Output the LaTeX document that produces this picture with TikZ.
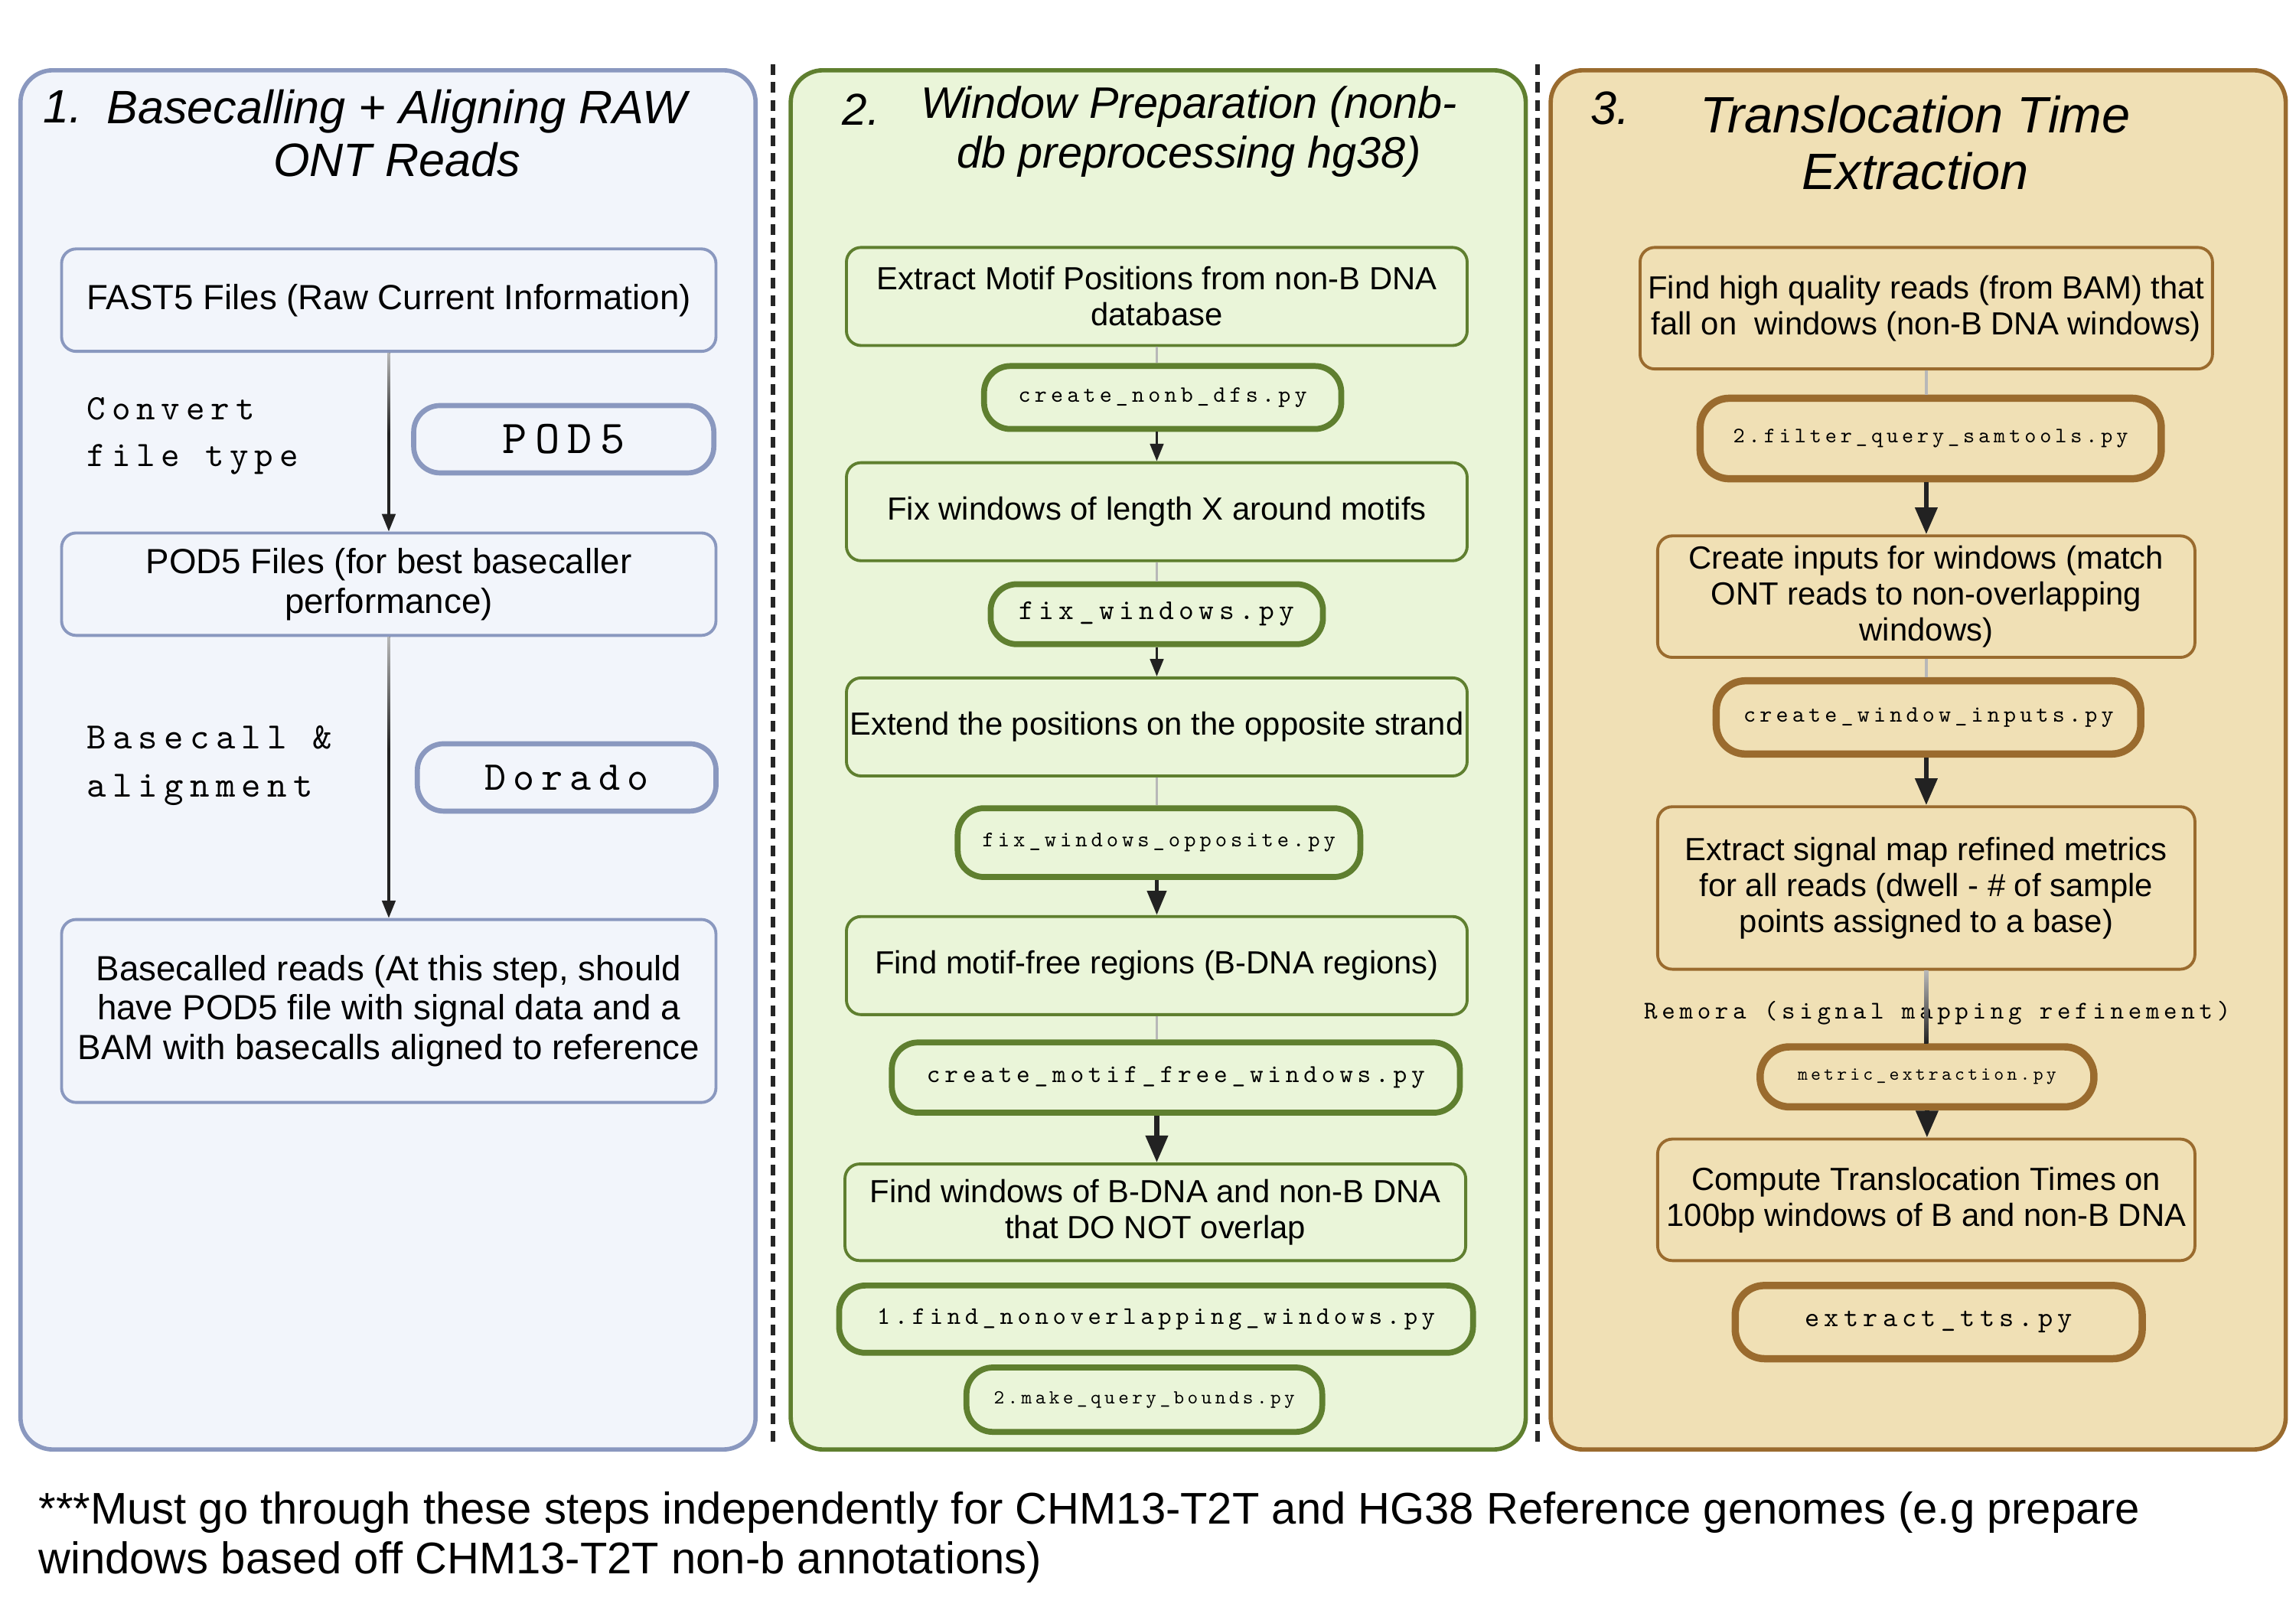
\documentclass[tikz,border=0pt]{standalone}
\usepackage{fontspec}
\setmainfont{Liberation Sans}
\setmonofont{lmmono10-regular.otf}[LetterSpace=17]
\usetikzlibrary{arrows.meta,calc}
\newcommand{\pxu}{0.5443pt}
\newcommand{\myfs}[2]{\fontsize{#1}{#2}\selectfont}
\newcommand{\codef}{\ttfamily}
\definecolor{pAfill}{HTML}{F2F5FB}
\definecolor{pAline}{HTML}{8A98BF}
\definecolor{pBfill}{HTML}{EAF5D9}
\definecolor{pBline}{HTML}{5F7F2F}
\definecolor{pCfill}{HTML}{F0E0B5}
\definecolor{pCline}{HTML}{9A6B2E}
\definecolor{arrowc}{HTML}{222222}
\definecolor{fadec}{HTML}{B8B8B8}
\tikzset{
  sz/.style 2 args={minimum width=#1*\pxu, minimum height=#2*\pxu},
  panel/.style={rounded corners=22*\pxu, line width=1.6pt},
  stepbox/.style={draw, rounded corners=10*\pxu, line width=1.1pt, inner sep=0pt, align=center, font=\myfs{11.9}{13.4}},
  stepboxA/.style={stepbox, font=\myfs{13}{14.7}},
  codeA/.style={draw=pAline, rounded corners=18*\pxu, line width=1.9pt, inner sep=0pt, align=center},
  codeB/.style={draw=pBline, rounded corners=18*\pxu, line width=2.2pt, inner sep=0pt, align=center},
  codeC/.style={draw=pCline, rounded corners=20*\pxu, line width=2.7pt, inner sep=0pt, align=center},
  ttl/.style={align=center, inner sep=0pt, font=\itshape},
  arrS/.style={draw=arrowc, line width=0.9pt, -{Triangle[length=6.5pt,width=5pt]}},
  arrM/.style={draw=arrowc, line width=1.5pt, -{Triangle[length=9pt,width=7pt]}},
  arrL/.style={draw=arrowc, line width=1.9pt, -{Triangle[length=10pt,width=8pt]}},
  fadeln/.style={draw=fadec, line width=1.1pt},
  sep/.style={draw=black!85, line width=1.6pt, dash pattern=on 4pt off 2.6pt},
}
\begin{document}
\begin{tikzpicture}[x=0.019133cm, y=-0.019133cm]
\useasboundingbox (0,0) rectangle (1568,1097.6);

% panels
\draw[panel, fill=pAfill, draw=pAline] (14,48) rectangle (516,990);
\draw[panel, fill=pBfill, draw=pBline] (540,48) rectangle (1042,990);
\draw[panel, fill=pCfill, draw=pCline] (1059,48) rectangle (1561,990);

% separators
\coordinate (s1t) at (528,44); \coordinate (s1b) at (528,985);
\coordinate (s2t) at (1050,44); \coordinate (s2b) at (1050,985);
\draw[sep] (s1t) -- (s1b);
\draw[sep] (s2t) -- (s2b);

% ---------- panel 1 ----------
\node[ttl, anchor=west, font=\itshape\myfs{17.4}{19.6}] (n1) at (29,73) {1.};
\node[ttl, font=\itshape\myfs{17.4}{19.6}] (t1) at (271,91) {Basecalling + Aligning RAW\\ONT Reads};

\node[stepboxA, draw=pAline, sz={447}{70}] (fast5) at (265.5,205) {FAST5 Files (Raw Current Information)};
\node[codeA, sz={205}{46}, font=\codef\myfs{17.5}{20}] (pod5) at (385,300) {POD5};
\node[anchor=west, align=left, inner sep=0pt, font=\codef\myfs{13.3}{17.4}] (conv) at (59,298) {Convert\\file type};
\node[stepboxA, draw=pAline, sz={447}{70}] (pod5f) at (265.5,399) {POD5 Files (for best basecaller\\performance)};
\node[codeA, sz={204}{46}, font=\codef\myfs{15.2}{18}] (dorado) at (387,531) {Dorado};
\node[anchor=west, align=left, inner sep=0pt, font=\codef\myfs{13.8}{18}] (bcal) at (59,523) {Basecall \&\\alignment};
\node[stepboxA, draw=pAline, sz={447}{125}] (bcd) at (265.5,690.5) {Basecalled reads (At this step, should\\have POD5 file with signal data and a\\BAM with basecalls aligned to reference};

\draw[arrS] (fast5.south) -- (pod5f.north);
\shade[top color=fadec, bottom color=arrowc] ([xshift=-0.5pt]fast5.south) rectangle ([xshift=0.5pt]$(fast5.south)!0.45!(pod5f.north)$);
\draw[arrS] (pod5f.south) -- (bcd.north);
\shade[top color=fadec, bottom color=arrowc] ([xshift=-0.5pt]pod5f.south) rectangle ([xshift=0.5pt]$(pod5f.south)!0.4!(bcd.north)$);

% ---------- panel 2 ----------
\node[ttl, anchor=west, font=\itshape\myfs{16.6}{18.5}] (n2) at (575,75) {2.};
\node[ttl, font=\itshape\myfs{16.4}{18.5}] (t2) at (812,90) {Window Preparation (nonb-\\db preprocessing hg38)};

\node[stepbox, draw=pBline, sz={424}{67}] (ext) at (790,202.5) {Extract Motif Positions from non-B DNA\\database};
\node[codeB, sz={244}{43}, font=\codef\myfs{8.7}{12}] (c1) at (794,271.5) {create\_nonb\_dfs.py};
\node[stepbox, draw=pBline, sz={424}{67}] (fixw) at (790,349.5) {Fix windows of length X around motifs};
\node[codeB, sz={227}{41}, font=\codef\myfs{10.7}{14}] (c2) at (790,419.5) {fix\_windows.py};
\node[stepbox, draw=pBline, sz={424}{67}] (extd) at (790,496.5) {Extend the positions on the opposite strand};
\node[codeB, sz={275}{47}, font=\codef\myfs{8.3}{12}] (c3) at (791.5,575.5) {fix\_windows\_opposite.py};
\node[stepbox, draw=pBline, sz={424}{67}] (mfree) at (790,659.5) {Find motif-free regions (B-DNA regions)};
\node[codeB, sz={388}{48}, font=\codef\myfs{9.6}{13}] (c4) at (803,736) {create\_motif\_free\_windows.py};
\node[stepbox, draw=pBline, sz={424}{66}] (fwin) at (789,828) {Find windows of B-DNA and non-B DNA\\that DO NOT overlap};
\node[codeB, sz={433}{46}, font=\codef\myfs{9.4}{13}] (c5) at (789.5,901) {1.find\_nonoverlapping\_windows.py};
\node[codeB, sz={243}{44}, font=\codef\myfs{7.4}{10}] (c6) at (781.5,956) {2.make\_query\_bounds.py};

\draw[fadeln] (ext.south) -- (ext.south |- c1.north);
\draw[arrS] (ext.south |- c1.south) -- (fixw.north);
\draw[fadeln] (fixw.south) -- (fixw.south |- c2.north);
\draw[arrS] (fixw.south |- c2.south) -- (extd.north);
\draw[fadeln] (extd.south) -- (extd.south |- c3.north);
\draw[arrM] (extd.south |- c3.south) -- (mfree.north);
\draw[fadeln] (mfree.south) -- (mfree.south |- c4.north);
\draw[arrL] (mfree.south |- c4.south) -- (mfree.south |- fwin.north);

% ---------- panel 3 ----------
\node[ttl, anchor=west, font=\itshape\myfs{17.4}{19}] (n3) at (1086,74) {3.};
\node[ttl, font=\itshape\myfs{19}{21.2}] (t3) at (1308,97.5) {Translocation Time\\Extraction};

\node[stepbox, draw=pCline, sz={391}{83}] (fhq) at (1315.5,210.5) {Find high quality reads (from BAM) that\\fall on\ \ windows (non-B DNA windows)};
\node[codeC, sz={315}{55}, font=\codef\myfs{8.2}{11}] (c7) at (1318.5,299.5) {2.filter\_query\_samtools.py};
\node[stepbox, draw=pCline, sz={367}{83}] (cin) at (1315.5,407.5) {Create inputs for windows (match\\ONT reads to non-overlapping\\windows)};
\node[codeC, sz={290}{50}, font=\codef\myfs{8.7}{12}] (c8) at (1317,490) {create\_window\_inputs.py};
\node[stepbox, draw=pCline, sz={367}{111}] (esig) at (1315.5,606.5) {Extract signal map refined metrics\\for all reads (dwell - \# of sample\\points assigned to a base)};
\node[inner sep=0pt, font=\codef\myfs{9.5}{13}] (rem) at (1323,692) {Remora (signal mapping refinement)};
\node[codeC, sz={228}{41}, font=\codef\myfs{7}{10}] (c9) at (1316,735.5) {metric\_extraction.py};
\node[stepbox, draw=pCline, sz={367}{83}] (comp) at (1315.5,819.5) {Compute Translocation Times on\\100bp windows of B and non-B DNA};
\node[codeC, sz={278}{50}, font=\codef\myfs{10.4}{14}] (c10) at (1324,903) {extract\_tts.py};

\draw[fadeln] (fhq.south) -- (fhq.south |- c7.north);
\draw[arrL] (fhq.south |- c7.south) -- (cin.north);
\draw[fadeln] (cin.south) -- (cin.south |- c8.north);
\draw[arrL] (cin.south |- c8.south) -- (esig.north);
\shade[top color=fadec, bottom color=arrowc] ([xshift=-0.8pt]esig.south) rectangle ([xshift=0.8pt]esig.south |- c9.north);
\draw[arrL] (c9.south) -- (c9.south |- comp.north);

% ---------- footnote ----------
\node[anchor=west, align=left, inner sep=0pt, font=\myfs{16.5}{18.5}] (foot) at (26,1050) {***Must go through these steps independently for CHM13-T2T and HG38 Reference genomes (e.g prepare\\windows based off CHM13-T2T non-b annotations)};
\end{tikzpicture}
\end{document}
